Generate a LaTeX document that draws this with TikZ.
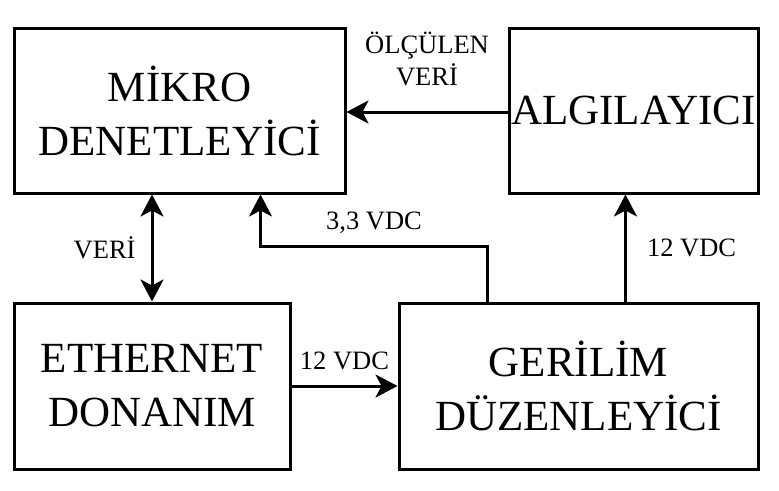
\documentclass[tikz,border=0pt]{standalone}
\usepackage{fontspec}
\setmainfont{Liberation Serif}
\usepackage{tikz}
\usetikzlibrary{arrows.meta, positioning, calc}

\begin{document}
\begin{tikzpicture}[
    x=1pt, y=-1pt,
    >={Stealth[length=22pt, width=23pt, inset=6pt]},
    block/.style={rectangle, draw, line width=3pt, inner sep=0pt, align=center, font=\fontsize{43}{54}\selectfont},
    arrow/.style={->, line width=3pt},
    lbl/.style={font=\fontsize{26.5}{32}\selectfont, align=center, inner sep=3pt}
    ]
    \useasboundingbox (0,0) rectangle (779,490);

    \node[block, minimum width=331pt, minimum height=165pt] (micro) at (179.5,110.5) {MİKRO\\DENETLEYİCİ};
    \node[block, minimum width=249pt, minimum height=165pt] (alg) at (633.5,110.5) {ALGILAYICI};
    \node[block, minimum width=276pt, minimum height=166pt] (eth) at (152,386) {ETHERNET\\DONANIM};
    \node[block, minimum width=359pt, minimum height=166pt] (ger) at (578.5,386) {GERİLİM\\DÜZENLEYİCİ};

    \coordinate (reg3v) at ($(ger.north west)+(90,0)$);
    \coordinate (mcu3v) at ($(micro.south west)+(248,0)$);
    \coordinate (alg12) at ($(alg.south west)+(118,0)$);

    \draw[arrow] (alg.west |- 0,112) -- node[lbl, above=22pt] {ÖLÇÜLEN\\VERİ} (micro.east |- 0,112);
    \draw[arrow, <->] (eth.north) -- node[lbl, left=12pt] {VERİ} (eth.north |- micro.south);
    \draw[arrow] (reg3v) -- ++(0,-55) -| node[lbl, pos=0.25, above=8pt] {3,3 VDC} (mcu3v);
    \draw[arrow] (alg12 |- ger.north) -- node[lbl, right=17pt] {12 VDC} (alg12);
    \draw[arrow] (eth.east) -- node[lbl, above=12pt] {12 VDC} (eth.east -| ger.west);
  \end{tikzpicture}
\end{document}
